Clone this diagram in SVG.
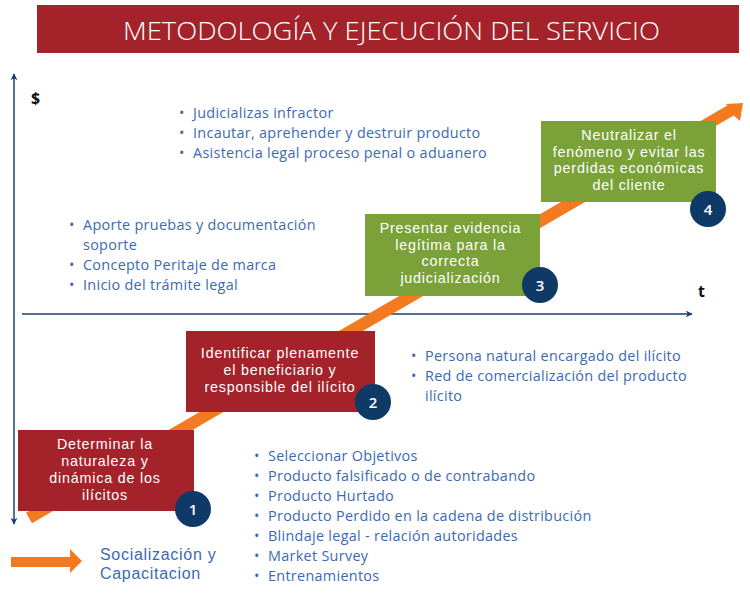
<svg xmlns="http://www.w3.org/2000/svg" width="750" height="594" viewBox="0 0 750 594">
<defs>
<style>
.title{font-family:"Open Sans","Liberation Sans",sans-serif;font-size:25px;font-weight:300;fill:#ffffff}
.box-red{fill:#a4232b}
.box-green{fill:#7aa239}
.btxt{font-family:"Liberation Sans",Arial,sans-serif;font-size:14.3px;letter-spacing:0.8px;fill:#ffffff;text-anchor:middle}
.num{fill:#0f3a67}
.ntxt{font-family:"Open Sans","Liberation Sans",sans-serif;font-size:15px;font-weight:600;fill:#ffffff;text-anchor:middle}
.list{font-family:"Open Sans","Liberation Sans",sans-serif;font-size:14.4px;letter-spacing:0.3px;fill:#3b6ab3}
.axis{stroke:#173f6e;stroke-width:1.5;fill:none}
.axlbl{font-family:"Open Sans","Liberation Sans",sans-serif;font-size:16px;font-weight:700;fill:#111111}
.orange{fill:#f47a20}
.legend{font-family:"Liberation Sans",Arial,sans-serif;font-size:16px;letter-spacing:0.7px;fill:#3b6ab3}
</style>
<marker id="ah" viewBox="0 0 10 10" refX="9" refY="5" markerWidth="7" markerHeight="7" orient="auto-start-reverse" markerUnits="userSpaceOnUse">
<path d="M0,0 L10,5 L0,10 L3,5 Z" fill="#173f6e"/>
</marker>
</defs>
<rect width="750" height="594" fill="#ffffff"/>
<g id="title">
<rect x="37" y="5" width="702" height="48" fill="#a4232b"/>
<text class="title" x="391.5" y="40" text-anchor="middle" textLength="537" lengthAdjust="spacingAndGlyphs">METODOLOGÍA Y EJECUCIÓN DEL SERVICIO</text>
</g>
<g id="connectors">
<line class="axis" x1="14" y1="524" x2="14" y2="74" marker-start="url(#ah)" marker-end="url(#ah)"/>
<line class="axis" x1="22" y1="314" x2="692" y2="314" marker-end="url(#ah)"/>
<polygon class="orange" points="26,512.8 727.7,105.2 725,104 743,103 740,121 733.7,115.6 32,523.2"/>
</g>
<g id="axis-labels">
<text class="axlbl" x="31" y="104">$</text>
<text class="axlbl" x="698" y="297">t</text>
</g>
<g id="node1">
<rect class="box-red" x="18" y="430" width="176" height="81"/>
<text class="btxt" x="105" y="449">Determinar la</text>
<text class="btxt" x="105" y="466">naturaleza y</text>
<text class="btxt" x="105" y="483">dinámica de los</text>
<text class="btxt" x="105" y="500">ilícitos</text>
<circle class="num" cx="193" cy="509" r="18"/>
<text class="ntxt" x="193" y="514.5">1</text>
</g>
<g id="node2">
<rect class="box-red" x="186" y="331" width="189" height="81"/>
<text class="btxt" x="280" y="358">Identificar plenamente</text>
<text class="btxt" x="280" y="375">el beneficiario y</text>
<text class="btxt" x="280" y="392">responsible del ilícito</text>
<circle class="num" cx="373" cy="402" r="18"/>
<text class="ntxt" x="373" y="407.5">2</text>
</g>
<g id="node3">
<rect class="box-green" x="365" y="214" width="175" height="82"/>
<text class="btxt" x="450.5" y="233">Presentar evidencia</text>
<text class="btxt" x="450.5" y="249.7">legítima para la</text>
<text class="btxt" x="450.5" y="266.4">correcta</text>
<text class="btxt" x="450.5" y="283">judicialización</text>
<circle class="num" cx="540" cy="285" r="18"/>
<text class="ntxt" x="540" y="290.5">3</text>
</g>
<g id="node4">
<rect class="box-green" x="541" y="121" width="175" height="81"/>
<text class="btxt" x="629" y="140">Neutralizar el</text>
<text class="btxt" x="629" y="156.7">fenómeno y evitar las</text>
<text class="btxt" x="629" y="173.4">perdidas económicas</text>
<text class="btxt" x="629" y="190">del cliente</text>
<circle class="num" cx="708" cy="209" r="18"/>
<text class="ntxt" x="708" y="214.5">4</text>
</g>
<g id="list-top" class="list">
<text x="179" y="118">•</text><text x="193" y="118">Judicializas infractor</text>
<text x="179" y="138">•</text><text x="193" y="138">Incautar, aprehender y destruir producto</text>
<text x="179" y="158">•</text><text x="193" y="158">Asistencia legal proceso penal o aduanero</text>
</g>
<g id="list-left" class="list">
<text x="69" y="230">•</text><text x="83" y="230">Aporte pruebas y documentación</text>
<text x="83" y="250">soporte</text>
<text x="69" y="270">•</text><text x="83" y="270">Concepto Peritaje de marca</text>
<text x="69" y="290">•</text><text x="83" y="290">Inicio del trámite legal</text>
</g>
<g id="list-right" class="list">
<text x="411" y="361">•</text><text x="425" y="361">Persona natural encargado del ilícito</text>
<text x="411" y="381">•</text><text x="425" y="381">Red de comercialización del producto</text>
<text x="425" y="401">ilícito</text>
</g>
<g id="list-bottom" class="list">
<text x="254" y="461">•</text><text x="268" y="461">Seleccionar Objetivos</text>
<text x="254" y="481">•</text><text x="268" y="481">Producto falsificado o de contrabando</text>
<text x="254" y="501">•</text><text x="268" y="501">Producto Hurtado</text>
<text x="254" y="521">•</text><text x="268" y="521">Producto Perdido en la cadena de distribución</text>
<text x="254" y="541">•</text><text x="268" y="541">Blindaje legal - relación autoridades</text>
<text x="254" y="561">•</text><text x="268" y="561">Market Survey</text>
<text x="254" y="581">•</text><text x="268" y="581">Entrenamientos</text>
</g>
<g id="legend">
<polygon class="orange" points="11,557 70,557 70,549 82,561 70,573 70,567 11,567"/>
<text class="legend" x="100" y="560">Socialización y</text>
<text class="legend" x="100" y="579">Capacitacion</text>
</g>
</svg>
